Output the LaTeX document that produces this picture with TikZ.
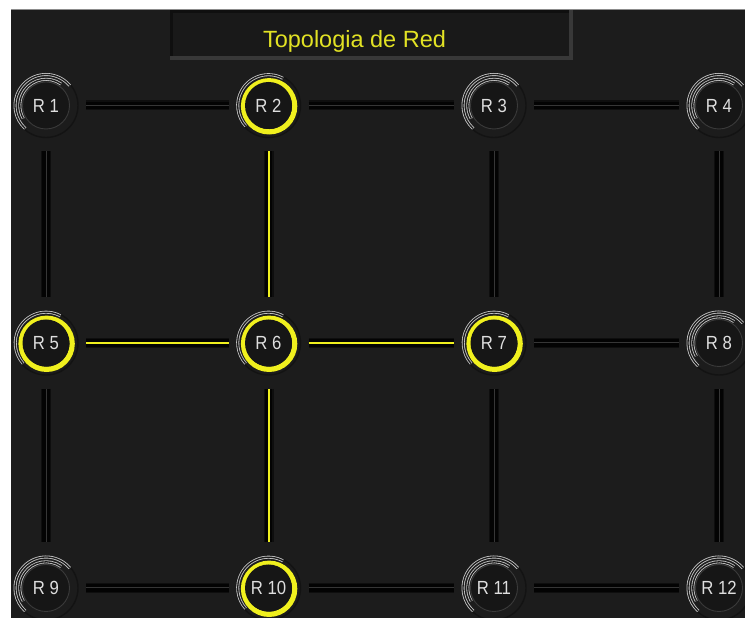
\documentclass[tikz,border=0pt]{standalone}
\usepackage{fontspec}
\usepackage{graphicx}
\newfontfamily\labfont{Liberation Sans}
\definecolor{panel}{HTML}{1C1C1C}
\definecolor{disk}{HTML}{161616}
\definecolor{rim}{HTML}{3A3A3A}
\definecolor{arcgray}{HTML}{C4C4C4}
\definecolor{ringyel}{HTML}{F0F01E}
\definecolor{titleyel}{HTML}{E2E224}
\definecolor{labgray}{HTML}{DEDEDE}
\definecolor{barA}{HTML}{0E0E0E}
\definecolor{barB}{HTML}{030303}
\definecolor{corecol}{HTML}{363636}
\definecolor{shade}{HTML}{131313}
\definecolor{boxlight}{HTML}{383838}
\definecolor{boxdark}{HTML}{0F0F0F}
\definecolor{boxin}{HTML}{191919}
\definecolor{topline}{HTML}{8C8C8C}

\newcommand\routeroff[4]{%
  \begin{scope}[shift={(#2,#3)}]
    \draw[shadering] (0,0) circle[radius=32pt];
    \draw[garc] (40:31pt) arc[start angle=40,end angle=228,radius=31pt];
    \draw[garc] (55:26.2pt) arc[start angle=55,end angle=210,radius=26.2pt];
  \end{scope}
  \node[router, fill=disk, draw=rim, line width=0.9pt] (#1) at (#2,#3) {\scalebox{0.88}[1]{#4}};
}
\newcommand\routeron[4]{%
  \begin{scope}[shift={(#2,#3)}]
    \draw[shadering] (0,0) circle[radius=32pt];
    \draw[garc] (62:30.8pt) arc[start angle=62,end angle=222,radius=30.8pt];
    \draw[draw=ringyel, line width=5.2pt] (0.6pt,-0.8pt) circle[radius=25.6pt];
  \end{scope}
  \node[router, fill=disk] (#1) at (#2,#3) {\scalebox{0.88}[1]{#4}};
}
\newcommand\conn[4]{%
  \draw[#3, draw=barA, line width=10pt] (#1) -- (#2);
  \draw[#3, draw=barB, line width=7.5pt] (#1) -- (#2);
  \draw[#3, #4] (#1) -- (#2);
}

\begin{document}
\begin{tikzpicture}[x=1pt,y=1pt,
  router/.style={circle, minimum size=47pt, inner sep=0pt, outer sep=0pt,
    text=labgray, font=\labfont\fontsize{19}{19}\selectfont},
  garc/.style={draw=arcgray, line width=0.85pt, double=panel, double distance=1.3pt},
  shadering/.style={draw=shade, line width=1.4pt},
  hlink/.style={shorten >=16.5pt, shorten <=16.5pt},
  vlink/.style={shorten >=22.5pt, shorten <=22.5pt},
  coreoff/.style={draw=corecol, line width=1pt},
  coreon/.style={draw=ringyel, line width=2pt},
]
\useasboundingbox (0,0) rectangle (745,618);
\fill[white] (0,0) rectangle (745,618);
\fill[panel] (11,0) rectangle (745,609);
\draw[topline, line width=0.8pt] (11,609) -- (745,609);

% title box
\fill[boxlight] (170,558) rectangle (573,608);
\fill[boxdark] (170,562) rectangle (569,608);
\fill[boxin] (173,562) rectangle (569,605);
\node[font=\labfont\fontsize{23.5}{24}\selectfont, text=titleyel, anchor=base] (title) at (354.5,570) {Topologia de Red};

% routers
\routeroff{r1}{46}{512.5}{R 1}
\routeron{r2}{268.5}{512.5}{R 2}
\routeroff{r3}{494}{512.5}{R 3}
\routeroff{r4}{719}{512.5}{R 4}
\routeron{r5}{46}{275}{R 5}
\routeron{r6}{268.5}{275}{R 6}
\routeron{r7}{494}{275}{R 7}
\routeroff{r8}{719}{275}{R 8}
\routeroff{r9}{46}{30}{R 9}
\routeron{r10}{268.5}{30}{R 10}
\routeroff{r11}{494}{30}{R 11}
\routeroff{r12}{719}{30}{R 12}

% links
\conn{r1}{r2}{hlink}{coreoff}
\conn{r2}{r3}{hlink}{coreoff}
\conn{r3}{r4}{hlink}{coreoff}
\conn{r5}{r6}{hlink}{coreon}
\conn{r6}{r7}{hlink}{coreon}
\conn{r7}{r8}{hlink}{coreoff}
\conn{r9}{r10}{hlink}{coreoff}
\conn{r10}{r11}{hlink}{coreoff}
\conn{r11}{r12}{hlink}{coreoff}
\conn{r1}{r5}{vlink}{coreoff}
\conn{r2}{r6}{vlink}{coreon}
\conn{r3}{r7}{vlink}{coreoff}
\conn{r4}{r8}{vlink}{coreoff}
\conn{r5}{r9}{vlink}{coreoff}
\conn{r6}{r10}{vlink}{coreon}
\conn{r7}{r11}{vlink}{coreoff}
\conn{r8}{r12}{vlink}{coreoff}
\end{tikzpicture}
\end{document}
